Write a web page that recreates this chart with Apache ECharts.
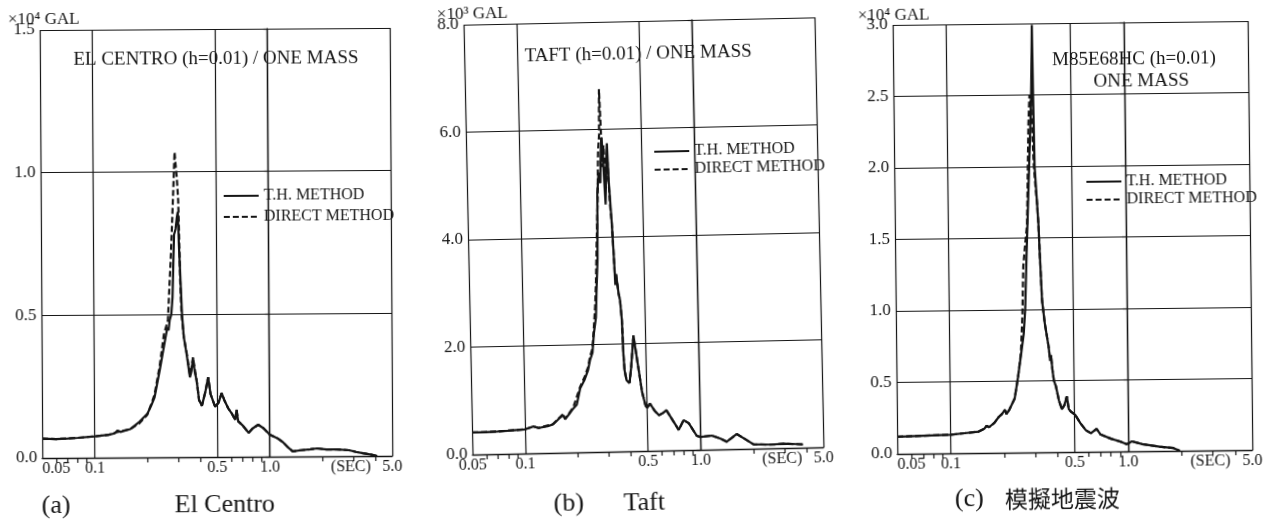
<!DOCTYPE html>
<html lang="ja">
<head>
    <meta charset="UTF-8">
    <title>応答スペクトル</title>
    <script src="https://cdn.jsdelivr.net/npm/echarts/dist/echarts.min.js"></script>
    <style>
        html, body { margin: 0; padding: 0; background: #fff; }
        body { width: 1277px; height: 522px; position: relative; overflow: hidden; }
        .panel { position: absolute; top: 0; height: 522px; }
    </style>
</head>
<body>
<div id="pa" class="panel" style="left:0;width:425px;transform-origin:216px 243px;transform:rotate(-0.35deg);"></div>
<div id="pb" class="panel" style="left:425px;width:425px;transform-origin:218px 236px;transform:rotate(-1.2deg);"></div>
<div id="pc" class="panel" style="left:850px;width:427px;transform-origin:222px 238px;transform:rotate(-0.63deg);"></div>
<script>
    // period axis (sec), log scale
    var xLabelVals = [0.05, 0.1, 0.5, 1.0, 2.9, 5.0];
    var xLabelText = ['0.05', '0.1', '0.5', '1.0', '(SEC)', '5.0'];
    var xGridVals = [0.05, 0.1, 0.5, 1.0, 5.0];
    var xMinorVals = [0.06, 0.07, 0.08, 0.09, 0.2, 0.3, 0.4, 0.6, 0.7, 0.8, 0.9, 2, 3, 4];
    var seriesNames = ['T.H. METHOD', 'DIRECT METHOD'];

    // (a) El Centro  (x10^4 GAL)
    var elThT = [0.05,0.06,0.07,0.08,0.1,0.12,0.13,0.135,0.14,0.16,0.18,0.2,0.21,0.22,0.236,0.252,0.262,0.266,0.27,0.276,0.281,0.288,0.294,0.299,0.303,0.307,0.318,0.325,0.336,0.351,0.358,0.366,0.374,0.383,0.395,0.41,0.43,0.446,0.46,0.488,0.51,0.532,0.55,0.58,0.61,0.635,0.647,0.66,0.7,0.757,0.8,0.859,0.92,1.0,1.1,1.19,1.28,1.35,1.5,1.7,1.86,2.1,2.4,2.83,3.1,3.4,3.8,4.1];
    var elThV = [0.068,0.066,0.068,0.07,0.075,0.08,0.085,0.095,0.09,0.10,0.125,0.153,0.18,0.21,0.305,0.40,0.456,0.445,0.48,0.50,0.56,0.78,0.80,0.84,0.86,0.74,0.50,0.42,0.365,0.28,0.30,0.347,0.30,0.27,0.20,0.18,0.23,0.28,0.22,0.176,0.19,0.224,0.20,0.17,0.15,0.13,0.165,0.125,0.11,0.084,0.10,0.112,0.10,0.077,0.065,0.05,0.03,0.018,0.022,0.025,0.028,0.024,0.024,0.021,0.015,0.01,0.005,0.0];
    var elDmT = [0.05,0.06,0.08,0.1,0.12,0.135,0.16,0.18,0.2,0.21,0.22,0.236,0.25,0.264,0.27,0.275,0.28,0.284,0.288,0.292,0.296,0.3,0.305,0.308,0.311,0.316,0.325,0.336,0.351,0.358,0.366,0.374,0.383,0.395,0.41,0.43,0.446,0.46,0.488,0.51,0.532,0.55,0.58,0.61,0.635,0.647,0.66,0.7,0.757,0.8,0.859,0.92,1.0,1.1,1.19,1.28,1.35,1.5,1.7,1.86,2.1,2.4,2.83,3.1,3.4,3.8,4.1];
    var elDmV = [0.068,0.066,0.07,0.075,0.08,0.09,0.10,0.12,0.15,0.185,0.22,0.32,0.43,0.48,0.60,0.69,0.80,0.89,0.98,1.07,1.02,0.98,0.90,0.78,0.62,0.50,0.42,0.37,0.29,0.31,0.35,0.31,0.27,0.20,0.18,0.23,0.28,0.22,0.176,0.19,0.224,0.20,0.17,0.15,0.13,0.165,0.125,0.11,0.084,0.10,0.112,0.10,0.077,0.065,0.05,0.03,0.018,0.022,0.025,0.028,0.024,0.024,0.021,0.015,0.01,0.005,0.0];

    // (b) Taft  (x10^3 GAL)
    var tfThT = [0.05,0.06,0.07,0.08,0.1,0.107,0.112,0.12,0.135,0.145,0.155,0.16,0.166,0.17,0.18,0.19,0.199,0.209,0.222,0.233,0.24,0.248,0.254,0.262,0.266,0.272,0.276,0.282,0.288,0.292,0.296,0.302,0.307,0.312,0.317,0.322,0.331,0.338,0.341,0.345,0.355,0.361,0.368,0.372,0.376,0.385,0.40,0.41,0.426,0.45,0.47,0.49,0.5,0.52,0.55,0.583,0.615,0.643,0.7,0.753,0.804,0.86,0.953,1.0,1.16,1.3,1.41,1.61,1.8,2.0,2.5,3.0,3.5,3.83];
    var tfThV = [0.41,0.41,0.42,0.43,0.45,0.48,0.50,0.47,0.50,0.53,0.62,0.66,0.70,0.62,0.72,0.82,0.89,1.19,1.35,1.53,1.72,1.85,2.21,2.5,3.0,3.6,4.8,5.2,5.0,5.6,5.85,5.2,4.6,5.3,5.74,5.0,4.25,3.5,3.1,3.3,2.94,2.82,2.44,1.8,1.51,1.32,1.27,1.55,2.15,1.57,1.1,0.85,0.80,0.88,0.75,0.66,0.70,0.75,0.55,0.38,0.56,0.50,0.26,0.24,0.26,0.20,0.14,0.28,0.18,0.08,0.07,0.08,0.07,0.06];
    var tfDmT = [0.05,0.07,0.1,0.112,0.12,0.145,0.166,0.17,0.19,0.209,0.222,0.233,0.24,0.248,0.254,0.26,0.265,0.27,0.276,0.282,0.287,0.29,0.293,0.297,0.303,0.31,0.318,0.325,0.331,0.338,0.341,0.345,0.355,0.361,0.368,0.372,0.376,0.385,0.40,0.41,0.426,0.45,0.47,0.49,0.5,0.52,0.55,0.583,0.615,0.643,0.7,0.753,0.804,0.86,0.953,1.0,1.16,1.3,1.41,1.61,1.8,2.0,2.5,3.0,3.5,3.83];
    var tfDmV = [0.41,0.42,0.45,0.50,0.47,0.54,0.72,0.63,0.84,1.22,1.40,1.58,1.78,1.92,2.3,2.7,3.2,3.9,4.6,5.6,5.9,6.75,6.2,5.3,5.7,5.0,5.4,4.6,4.25,3.5,3.2,3.3,2.94,2.82,2.44,1.8,1.51,1.32,1.27,1.55,2.15,1.57,1.1,0.85,0.80,0.88,0.75,0.66,0.70,0.75,0.55,0.38,0.56,0.50,0.26,0.24,0.26,0.20,0.14,0.28,0.18,0.08,0.07,0.08,0.07,0.06];

    // (c) 模擬地震波  (x10^4 GAL)
    var mkThT = [0.05,0.07,0.1,0.12,0.144,0.155,0.16,0.165,0.177,0.187,0.195,0.203,0.207,0.215,0.231,0.242,0.252,0.262,0.268,0.275,0.283,0.29,0.298,0.302,0.304,0.306,0.309,0.317,0.322,0.326,0.334,0.345,0.361,0.368,0.372,0.378,0.385,0.395,0.41,0.425,0.44,0.454,0.465,0.48,0.505,0.54,0.58,0.618,0.665,0.7,0.8,0.9,0.98,1.05,1.2,1.5,1.8,1.95];
    var mkThV = [0.12,0.125,0.13,0.14,0.15,0.17,0.19,0.18,0.21,0.25,0.27,0.30,0.27,0.30,0.38,0.53,0.68,0.83,1.0,1.39,1.77,2.1,2.47,2.8,2.99,2.5,2.0,1.75,1.6,1.4,1.06,0.9,0.74,0.64,0.68,0.58,0.5,0.46,0.36,0.30,0.33,0.39,0.30,0.28,0.26,0.20,0.15,0.13,0.16,0.12,0.09,0.07,0.05,0.07,0.05,0.03,0.02,0.0];
    var mkDmT = [0.05,0.07,0.1,0.12,0.144,0.155,0.16,0.165,0.177,0.187,0.195,0.203,0.207,0.215,0.231,0.242,0.252,0.258,0.263,0.27,0.278,0.283,0.287,0.292,0.297,0.302,0.306,0.312,0.317,0.322,0.326,0.334,0.345,0.361,0.368,0.372,0.378,0.385,0.395,0.41,0.425,0.44,0.454,0.465,0.48,0.505,0.54,0.58,0.618,0.665,0.7,0.8,0.9,0.98,1.05,1.2,1.5,1.8,1.95];
    var mkDmV = [0.12,0.125,0.13,0.14,0.15,0.17,0.19,0.18,0.21,0.25,0.27,0.30,0.27,0.30,0.38,0.53,0.70,0.95,1.3,1.45,1.6,2.0,2.3,2.5,2.45,2.2,2.0,1.85,1.75,1.6,1.4,1.06,0.9,0.74,0.64,0.68,0.58,0.5,0.46,0.36,0.30,0.33,0.39,0.30,0.28,0.26,0.20,0.15,0.13,0.16,0.12,0.09,0.07,0.05,0.07,0.05,0.03,0.02,0.0];

    var SERIF = "'Liberation Serif', 'DejaVu Serif', serif";
    var INK = '#151515';

    function lg(v) { return Math.log10(v); }
    function pairs(ts, vs) {
        return ts.map(function (t, i) { return [lg(t), vs[i]]; });
    }
    function text(x, y, str, size, align, family) {
        return {
            type: 'text', x: x, y: y, silent: true,
            style: {
                text: str, fill: INK,
                fontSize: size, fontFamily: family || SERIF,
                align: align, textAlign: align,
                verticalAlign: 'middle', textVerticalAlign: 'middle'
            }
        };
    }

    function makeChart(id, p) {
        var chart = echarts.init(document.getElementById(id));
        var gridLine = { color: INK, width: 1.2 };
        var option = {
            animation: false,
            backgroundColor: 'transparent',
            grid: p.grid,
            legend: {
                orient: 'vertical',
                left: p.legend[0],
                top: p.legend[1],
                itemWidth: 35,
                itemHeight: 12,
                itemGap: p.legend[2],
                padding: 0,
                itemStyle: { opacity: 0 },     // line only, no marker
                textStyle: { fontFamily: SERIF, fontSize: 16, color: INK, lineHeight: 18 },
                data: seriesNames
            },
            xAxis: [{
                type: 'value',
                min: lg(0.05),
                max: lg(5),
                axisLine: { show: true, lineStyle: { color: INK, width: 1.4 } },
                axisTick: { show: false, customValues: xGridVals.map(lg) },
                splitLine: { show: true, lineStyle: gridLine },
                axisLabel: {
                    customValues: xLabelVals.map(lg),
                    alignMinLabel: p.minAlign,
                    margin: 3,
                    fontFamily: SERIF,
                    fontSize: 16,
                    color: INK,
                    formatter: function (v) {
                        for (var i = 0; i < xLabelVals.length; i++) {
                            if (Math.abs(lg(xLabelVals[i]) - v) < 1e-6) return xLabelText[i];
                        }
                        return '';
                    }
                }
            }, {
                // minor ticks on the period axis
                type: 'value',
                position: 'bottom',
                min: lg(0.05),
                max: lg(5),
                axisLine: { show: false },
                splitLine: { show: false },
                axisLabel: { show: false },
                axisTick: { show: true, length: 5, customValues: xMinorVals.map(lg), lineStyle: { color: INK, width: 1.2 } }
            }],
            yAxis: {
                type: 'value',
                min: 0,
                max: p.yMax,
                interval: p.yStep,
                axisLine: { show: true, lineStyle: { color: INK, width: 1.4 } },
                axisTick: { show: true, length: 4, lineStyle: { color: INK, width: 1.2 } },
                splitLine: { show: true, lineStyle: gridLine },
                axisLabel: {
                    margin: 5,
                    fontFamily: SERIF,
                    fontSize: 17,
                    color: INK,
                    formatter: function (v) { return v.toFixed(1); }
                }
            },
            graphic: p.texts,
            series: [{
                name: seriesNames[0],
                type: 'line',
                xAxisIndex: 0,
                symbol: 'none',
                showSymbol: false,
                data: pairs(p.th[0], p.th[1]),
                lineStyle: { color: INK, width: 2.2 },
                itemStyle: { color: INK },
                z: 3
            }, {
                name: seriesNames[1],
                type: 'line',
                xAxisIndex: 0,
                symbol: 'none',
                showSymbol: false,
                data: pairs(p.dm[0], p.dm[1]),
                lineStyle: { color: INK, width: 2.2, type: [6, 3] },
                itemStyle: { color: INK },
                z: 4
            }]
        };
        chart.setOption(option);
        return chart;
    }

    makeChart('pa', {
        grid: { left: 41, top: 29, width: 350, height: 428 },
        legend: [223, 187, 3],
        yMax: 1.5, yStep: 0.5,
        minAlign: 'left',
        th: [elThT, elThV], dm: [elDmT, elDmV],
        texts: [
            text(45, 19, '×10⁴ GAL', 17, 'center'),
            text(217, 59, 'EL CENTRO (h=0.01) / ONE MASS', 19, 'center'),
            text(40, 505, '(a)', 26, 'left'),
            text(173, 505, 'El Centro', 26, 'left')
        ]
    });

    makeChart('pb', {
        grid: { left: 43, top: 21, width: 351, height: 430 },
        legend: [230, 143, 0],
        yMax: 8, yStep: 2,
        minAlign: 'center',
        th: [tfThT, tfThV], dm: [tfDmT, tfDmV],
        texts: [
            text(52, 11, '×10³ GAL', 17, 'center'),
            text(217, 54, 'TAFT (h=0.01) / ONE MASS', 19, 'center'),
            text(123, 502, '(b)', 26, 'left'),
            text(193, 503, 'Taft', 26, 'left')
        ]
    });

    makeChart('pc', {
        grid: { left: 45, top: 23, width: 355, height: 429 },
        legend: [236, 173, 0],
        yMax: 3, yStep: 0.5,
        minAlign: 'left',
        th: [mkThT, mkThV], dm: [mkDmT, mkDmV],
        texts: [
            text(46, 14, '×10⁴ GAL', 17, 'center'),
            text(286, 60, 'M85E68HC (h=0.01)', 19, 'center'),
            text(293, 82, 'ONE MASS', 19, 'center'),
            text(102, 498, '(c)', 26, 'left'),
            text(152, 498, '模擬地震波', 23, 'left', "'Noto Sans CJK JP', sans-serif")
        ]
    });
</script>
</body>
</html>
